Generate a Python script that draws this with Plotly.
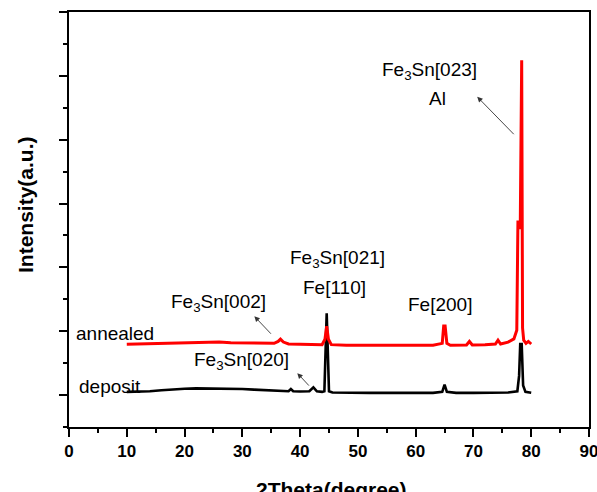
import plotly.graph_objects as go

# ---- data ----
deposit_x = [10, 12, 14, 16, 18, 20, 22, 24, 26, 28, 30, 32, 34, 36, 38.0, 38.4, 38.8, 40, 41.6, 42.3, 42.9, 43.8,
             44.2, 44.6, 45.0, 45.6, 48, 52, 56, 60, 63, 64.6, 65.0, 65.4, 67, 70, 73, 76, 77.6, 77.9,
             78.1, 78.35, 78.6, 79.0, 80]
deposit_y = [1.1, 1.1, 1.12, 1.15, 1.18, 1.2, 1.21, 1.21, 1.21, 1.2, 1.19, 1.17, 1.15, 1.13, 1.12, 1.19, 1.12, 1.11, 1.12, 1.24, 1.12, 1.1,
             1.12, 3.56, 1.12, 1.08, 1.07, 1.07, 1.07, 1.07, 1.07, 1.1, 1.33, 1.1, 1.07, 1.07, 1.07, 1.08, 1.12, 1.6,
             2.6, 2.6, 1.3, 1.1, 1.07]

annealed_x = [10, 12, 15, 18, 21, 24, 26, 28, 30, 32, 34, 35.5, 36.2, 36.6, 37.1, 38, 40, 42, 43.8,
              44.3, 44.6, 44.9, 45.4, 48, 52, 56, 60, 63, 64.6, 64.85, 65.1, 65.4, 66, 68.8, 69.3, 69.8,
              72, 73.8, 74.25, 74.7, 76, 77.0, 77.5, 77.7, 77.9, 78.1, 78.35, 78.5, 78.7, 79.1, 79.5, 80]
annealed_y = [2.59, 2.6, 2.61, 2.62, 2.64, 2.67, 2.66, 2.64, 2.63, 2.63, 2.62, 2.62, 2.68, 2.75, 2.66, 2.6, 2.59, 2.58, 2.58,
              2.75, 3.16, 2.75, 2.58, 2.56, 2.56, 2.56, 2.56, 2.56, 2.62, 3.16, 3.16, 2.62, 2.56, 2.57, 2.68, 2.57,
              2.58, 2.6, 2.72, 2.6, 2.66, 2.76, 3.03, 6.42, 6.42, 6.2, 11.49, 3.1, 2.72, 2.62, 2.68, 2.6]

x_ticks = [0, 10, 20, 30, 40, 50, 60, 70, 80, 90]

FONT = "Liberation Sans, Arial, sans-serif"

fig = go.Figure()
fig.add_trace(go.Scatter(x=deposit_x, y=deposit_y, mode="lines",
                         line=dict(color="black", width=2.6), showlegend=False))
fig.add_trace(go.Scatter(x=annealed_x, y=annealed_y, mode="lines",
                         line=dict(color="#ff0000", width=3), showlegend=False))

# pixel -> data helpers for label placement
def dx(px):
    return (px - 68.6) / 5.78

def dy(py):
    return (427 - py) / 32.0

labels = [
    ("Fe<sub>3</sub>Sn[023]", 429, 70),
    ("Al", 437, 98),
    ("Fe<sub>3</sub>Sn[021]", 337, 259),
    ("Fe[110]", 334, 287),
    ("Fe[200]", 440, 304),
    ("Fe<sub>3</sub>Sn[002]", 218, 303),
    ("annealed", 115, 333),
    ("Fe<sub>3</sub>Sn[020]", 241, 361),
    ("deposit", 110, 386),
]
for txt, px, py in labels:
    fig.add_annotation(x=dx(px), y=dy(py), text=txt, showarrow=False,
                       xanchor="center", yanchor="middle",
                       font=dict(family=FONT, size=19, color="black"))

arrows = [((515, 135), (477, 96)), ((272, 335), (254, 316)), ((310, 387), (297, 373))]
for (tx, ty), (hx, hy) in arrows:
    fig.add_annotation(x=dx(hx), y=dy(hy), ax=dx(tx), ay=dy(ty), axref="x", ayref="y",
                       text="", showarrow=True, arrowhead=2, arrowsize=1.2,
                       arrowwidth=0.9, arrowcolor="#333333")

# axis titles
fig.add_annotation(xref="paper", yref="paper", x=(25 - 69) / 520, y=(427 - 205) / 415,
                   text="<b>Intensity(a.u.)</b>", textangle=-90, showarrow=False,
                   xanchor="center", yanchor="middle", font=dict(family=FONT, size=21, color="black"))
fig.add_annotation(xref="paper", yref="paper", x=(331 - 69) / 520, y=(427 - 476) / 415,
                   text="<b>2Theta(degree)</b>", showarrow=False,
                   xanchor="center", yanchor="top", font=dict(family=FONT, size=21, color="black"))

fig.update_layout(
    width=597, height=492,
    margin=dict(l=69, r=8, t=12, b=65, autoexpand=False),
    plot_bgcolor="white", paper_bgcolor="white",
    font=dict(family=FONT, color="black"),
)
fig.update_xaxes(range=[0, 90], tickmode="array", tickvals=x_ticks,
                 ticktext=[f"<b>{v}</b>" for v in x_ticks], automargin=False,
                 ticklabeloverflow="allow",
                 ticks="outside", ticklen=8, tickwidth=1.5, tickcolor="black",
                 minor=dict(dtick=5, tick0=0, ticks="outside", ticklen=4, tickwidth=1.5, tickcolor="black"),
                 showline=True, linecolor="black", linewidth=1.5, mirror=True,
                 showgrid=False, zeroline=False, tickfont=dict(family=FONT, size=17, color="black"))
fig.update_yaxes(range=[0, 13], tick0=1, dtick=2, showticklabels=False, automargin=False,
                 ticks="outside", ticklen=8, tickwidth=1.5, tickcolor="black",
                 minor=dict(dtick=1, tick0=0, ticks="outside", ticklen=4, tickwidth=1.5, tickcolor="black"),
                 showline=True, linecolor="black", linewidth=1.5, mirror=True,
                 showgrid=False, zeroline=False)

fig.write_html("out.html", config={"displayModeBar": False},
               post_script="document.body.style.margin='0';document.body.style.overflow='hidden';")
